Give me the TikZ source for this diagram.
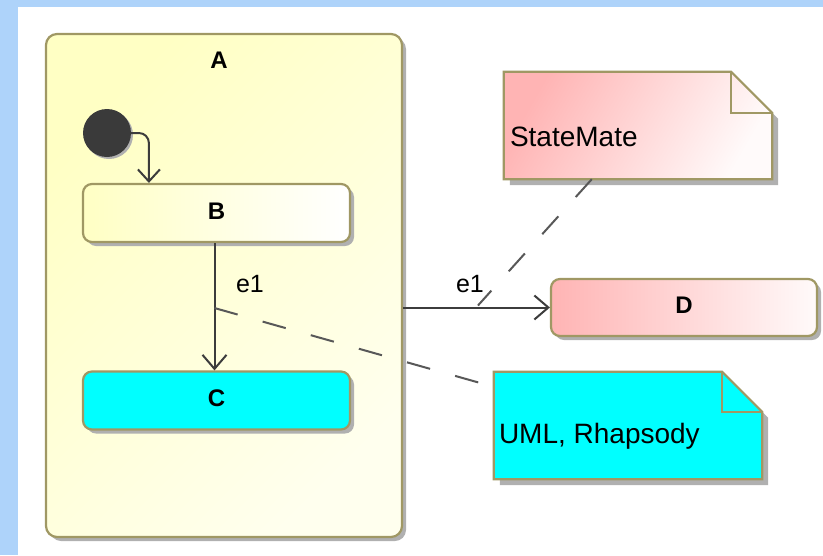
\documentclass[tikz,border=0pt]{standalone}
\usepackage{fontspec}
\setmainfont{Liberation Sans}
\usetikzlibrary{arrows.meta,shadows,calc}

\definecolor{bgblue}{RGB}{174,211,250}
\definecolor{edgeolive}{RGB}{160,152,100}
\definecolor{wirec}{RGB}{60,60,60}
\definecolor{dashc}{RGB}{88,88,88}
\definecolor{paleyel}{RGB}{255,255,196}
\definecolor{creamc}{RGB}{255,255,238}
\definecolor{pinkc}{RGB}{255,180,180}
\definecolor{pinkwhite}{RGB}{255,250,250}
\definecolor{cyanc}{RGB}{0,255,255}
\definecolor{shadowc}{RGB}{176,176,176}
\definecolor{dotc}{RGB}{58,58,58}

\begin{document}
\begin{tikzpicture}[x=1pt,y=-1pt,
  stateshadow/.style={drop shadow={shadow xshift=4pt,shadow yshift=-4pt,fill=shadowc,opacity=1}},
  statebox/.style={draw=edgeolive, line width=2.2pt, rounded corners=9pt,
    minimum width=267pt, minimum height=58pt, inner sep=0pt, text depth=4pt,
    font=\fontsize{24}{28}\selectfont\bfseries, stateshadow},
  superstate/.style={draw=edgeolive, line width=2.2pt, rounded corners=11pt,
    minimum width=356pt, minimum height=503pt, inner sep=0pt, stateshadow,
    left color=paleyel, right color=creamc, shading angle=45},
  notebody/.style={draw=edgeolive, line width=2.2pt, line join=miter},
  notearea/.style={minimum width=268pt, minimum height=107pt, inner sep=0pt},
  notetext/.style={anchor=west, inner sep=0pt, font=\fontsize{28}{32}\selectfont},
  transition/.style={draw=wirec, line width=2pt,
    -{Straight Barb[length=14pt,width=24pt,line width=2pt]}},
  evlabel/.style={inner sep=0pt, font=\fontsize{25}{29}\selectfont},
  anchorline/.style={draw=dashc, line width=2pt, dash pattern=on 24pt off 26pt},
]

% page background and white canvas
\fill[bgblue] (0,0) rectangle (823,555);
\fill[white] (18,7) rectangle (823,555);
\useasboundingbox (0,0) rectangle (823,555);

% composite state A with its substates
\node[superstate] (A) at (224,285.5) {};
\node[inner sep=0pt, font=\fontsize{24}{28}\selectfont\bfseries] (Atitle) at (219,60) {A};

\node[circle, fill=dotc, minimum size=48pt, inner sep=0pt,
  drop shadow={shadow xshift=2pt,shadow yshift=-2pt,fill=shadowc,opacity=1}] (init) at (107,133) {};

\node[statebox, left color=paleyel, right color=white] (B) at (216.5,213) {B};
\node[statebox, fill=cyanc] (C) at (216.5,400.5) {C};

% external state D
\node[statebox, minimum width=266pt, minimum height=57pt, left color=pinkc, right color=pinkwhite] (D) at (684,307.5) {D};

% note "StateMate"
\node[notearea] (sm) at (638,125.5) {};
\fill[shadowc] ($(sm.north west)+(6,6)$) -- ($(sm.north east)+(-35,6)$) -- ($(sm.north east)+(6,47)$)
  -- ($(sm.south east)+(6,6)$) -- ($(sm.south west)+(6,6)$) -- cycle;
\shade[left color=pinkc, right color=pinkwhite, shading angle=60]
  (sm.north west) -- ($(sm.north east)+(-41,0)$) -- ($(sm.north east)+(0,41)$)
  -- (sm.south east) -- (sm.south west) -- cycle;
\draw[notebody] (sm.north west) -- ($(sm.north east)+(-41,0)$) -- ($(sm.north east)+(0,41)$)
  -- (sm.south east) -- (sm.south west) -- cycle;
\draw[notebody] ($(sm.north east)+(-41,0)$) -- ($(sm.north east)+(-41,41)$) -- ($(sm.north east)+(0,41)$);
\node[notetext] (smtext) at ($(sm.west)+(6,11)$) {StateMate};

% note "UML, Rhapsody"
\node[notearea] (uml) at (628,425.5) {};
\fill[shadowc] ($(uml.north west)+(6,6)$) -- ($(uml.north east)+(-34,6)$) -- ($(uml.north east)+(6,46)$)
  -- ($(uml.south east)+(6,6)$) -- ($(uml.south west)+(6,6)$) -- cycle;
\draw[notebody, fill=cyanc] (uml.north west) -- ($(uml.north east)+(-40,0)$) -- ($(uml.north east)+(0,40)$)
  -- (uml.south east) -- (uml.south west) -- cycle;
\draw[notebody] ($(uml.north east)+(-40,0)$) -- ($(uml.north east)+(-40,40)$) -- ($(uml.north east)+(0,40)$);
\node[notetext] (umltext) at ($(uml.west)+(5,11)$) {UML, Rhapsody};

% transitions
\draw[transition, -{Straight Barb[length=12pt,width=22pt,line width=2pt]}, rounded corners=10pt]
  (init.east) -| ($(B.north west)+(67,0)$);
\draw[transition] ($(B.south)+(-2,0)$) -- ($(C.north)+(-2,0)$)
  coordinate[pos=0.51] (bcmid);
\node[evlabel] (e1a) at (250,284) {e1};

\draw[transition] (D.west -| A.east) -- (D.west)
  coordinate[pos=0.51] (admid);
\node[evlabel] (e1b) at (470,284) {e1};

% note anchors
\draw[anchorline] ($(sm.south west)+(88,0)$) -- ($(admid)+(0,-2)$);
\draw[anchorline] (bcmid) -- ($(uml.north west)+(0,15)$);

\end{tikzpicture}
\end{document}
